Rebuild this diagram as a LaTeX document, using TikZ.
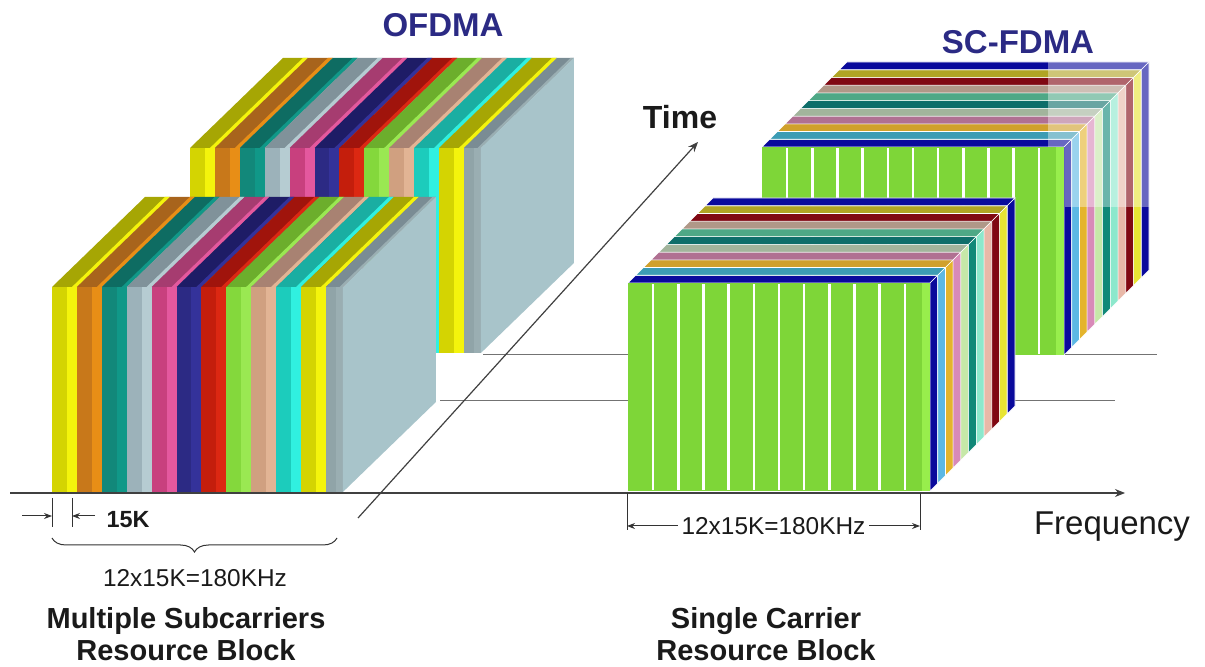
\documentclass[tikz,border=0pt]{standalone}
\usepackage{fontspec}
\setmainfont{Liberation Sans}
\usetikzlibrary{arrows.meta,decorations.pathreplacing,calc}

% subcarrier colours: face, highlight, top
\definecolor{ya}{HTML}{D4D402}\definecolor{yah}{HTML}{F4F40C}\definecolor{yat}{HTML}{A6A604}
\definecolor{or}{HTML}{C8781A}\definecolor{orh}{HTML}{E88E16}\definecolor{ort}{HTML}{A8641C}
\definecolor{te}{HTML}{12887A}\definecolor{teh}{HTML}{109888}\definecolor{tet}{HTML}{0E6C62}
\definecolor{gb}{HTML}{9CB2BA}\definecolor{gbh}{HTML}{B6CCD2}\definecolor{gbt}{HTML}{80929A}
\definecolor{pk}{HTML}{C8407E}\definecolor{pkh}{HTML}{E4589E}\definecolor{pkt}{HTML}{A63C70}
\definecolor{nv}{HTML}{2C2A84}\definecolor{nvh}{HTML}{34329A}\definecolor{nvt}{HTML}{1E1C66}
\definecolor{rd}{HTML}{C41E0C}\definecolor{rdh}{HTML}{DC2812}\definecolor{rdt}{HTML}{A0140C}
\definecolor{lg}{HTML}{84D83C}\definecolor{lgh}{HTML}{9AE852}\definecolor{lgt}{HTML}{6CAE2C}
\definecolor{tn}{HTML}{D0A080}\definecolor{tnh}{HTML}{E2B494}\definecolor{tnt}{HTML}{A88272}
\definecolor{cy}{HTML}{1CCCBC}\definecolor{cyh}{HTML}{30F0E0}\definecolor{cyt}{HTML}{1AAEA2}
\definecolor{gy}{HTML}{90A4A8}\definecolor{gyh}{HTML}{9AAEB2}\definecolor{gyt}{HTML}{7A8C94}
\definecolor{sidegb}{HTML}{A8C4CA}
% single carrier colours
\definecolor{scgreen}{HTML}{7ED638}\definecolor{scgreenlt}{HTML}{98EE4C}
\definecolor{nvb}{HTML}{0A0A9C}\definecolor{tq}{HTML}{3C9CB4}\definecolor{gd}{HTML}{D0A02C}
\definecolor{mv}{HTML}{B07092}\definecolor{gg}{HTML}{A2B49C}\definecolor{dt}{HTML}{0E6E6A}
\definecolor{sg}{HTML}{4EA886}\definecolor{gt}{HTML}{B09888}\definecolor{dr}{HTML}{800812}
\definecolor{ol}{HTML}{B0A424}\definecolor{lb}{HTML}{5CB8E4}\definecolor{gdd}{HTML}{E4B42C}
\definecolor{pkk}{HTML}{D88AB8}\definecolor{lgg}{HTML}{C6E8A8}\definecolor{tl}{HTML}{108878}
\definecolor{aq}{HTML}{8CE8CC}\definecolor{pt}{HTML}{E8B8A8}\definecolor{yl}{HTML}{E8E434}
\definecolor{hdnavy}{HTML}{2B2A84}\definecolor{ink}{HTML}{1A1A1A}

\tikzset{
  axisline/.style={draw=black!75, line width=0.6pt},
  floorline/.style={draw=black!55, line width=0.5pt},
  dimline/.style={draw=black!80, line width=0.5pt},
  tip/.style={-{Stealth[length=5pt,width=4pt]}},
  headlbl/.style={font=\fontsize{16.5}{19}\selectfont\bfseries, text=hdnavy},
  axislbl/.style={font=\fontsize{16.5}{19}\selectfont, text=ink},
  dimlbl/.style={font=\fontsize{12.2}{14}\selectfont, text=ink},
  caplbl/.style={font=\fontsize{14.5}{16}\selectfont\bfseries, text=ink, align=center},
}

% OFDMA block: front bottom-left corner at (#1,#2)
\newcommand{\ofdmablock}[2]{%
  \begin{scope}[shift={(#1,#2)}]
    \foreach \c [count=\i from 0] in {ya,or,te,gb,pk,nv,rd,lg,tn,cy,ya,gy}{
      \pgfmathsetmacro{\xa}{24.9*\i}
      \pgfmathsetmacro{\wd}{ifthenelse(\i==11,17,24.9)}
      \pgfmathsetmacro{\xb}{\xa+\wd}
      \pgfmathsetmacro{\xh}{\xa+0.6*\wd}
      \pgfmathsetmacro{\xt}{\xa+0.8*\wd}
      % top
      \fill[\c t] (\xa,-205) -- (\xb,-205) -- (\xb+93,-295) -- (\xa+93,-295) -- cycle;
      \fill[\c h] (\xt,-205) -- (\xb,-205) -- (\xb+93,-295) -- (\xt+93,-295) -- cycle;
      % front
      \fill[\c] (\xa,0) rectangle (\xh,-205);
      \fill[\c h] (\xh,0) rectangle (\xb,-205);
    }
    % side of the last subcarrier
    \fill[sidegb] (290.9,0) -- (290.9,-205) -- (383.9,-295) -- (383.9,-90) -- cycle;
  \end{scope}}

% SC-FDMA block: front bottom-left corner at (#1,#2)
\def\sx{7.727}
\def\sy{-7.727}
\newcommand{\scblock}[2]{%
  \begin{scope}[shift={(#1,#2)}]
    \foreach \ct/\cs [count=\k from 0] in {nvb/nvb,tq/lb,gd/gdd,mv/pkk,gg/lgg,dt/tl,sg/aq,gt/pt,dr/dr,ol/yl,nvb/nvb}{
      \fill[\ct, draw=white, line width=0.3pt] ({\k*\sx},{-208+\k*\sy}) -- ++(302,0) -- ++(\sx,\sy) -- ++(-302,0) -- cycle;
      \fill[\cs, draw=white, line width=0.3pt] ({302+\k*\sx},{-208+\k*\sy}) -- ++(\sx,\sy) -- ++(0,208) -- ++(-\sx,-\sy) -- cycle;
    }
    % front face
    \fill[scgreen] (0,0) rectangle (302,-208);
    \fill[scgreenlt] (294,0) rectangle (302,-208);
    \foreach \j in {1,...,11}
      \draw[white, line width=1.2pt] ({\j*302/12},-1) -- ({\j*302/12},-207);
  \end{scope}}

\begin{document}
\begin{tikzpicture}[x=0.5pt,y=-0.5pt]
  \useasboundingbox (0,0) rectangle (1205,667);

  % floor lines and frequency axis
  \coordinate (floor1-w) at (483,355);
  \coordinate (floor1-e) at (1157,355);
  \coordinate (floor2-w) at (440,401);
  \coordinate (floor2-e) at (1115,401);
  \coordinate (freq-w) at (10,493);
  \coordinate (freq-e) at (1125,493);
  \draw[floorline] (floor1-w) -- (floor1-e);
  \draw[floorline] (floor2-w) -- (floor2-e);
  \draw[axisline, tip] (freq-w) -- (freq-e);

  % OFDMA blocks
  \ofdmablock{190}{353}
  \ofdmablock{52}{492}

  % SC-FDMA blocks
  \scblock{762}{355}
  \fill[white, opacity=0.38] (1048,60) -- (1152,60) -- (1152,207) -- (1065,207) -- (1065,147) -- (1048,147) -- cycle;
  \scblock{628}{491}

  % time axis
  \coordinate (time-s) at (358,518);
  \coordinate (time-e) at (698,142);
  \draw[axisline, tip] (time-s) -- (time-e);

  % labels
  \node[headlbl] (ofdma) at (443,25) {OFDMA};
  \node[headlbl] (scfdma) at (1018,42) {SC-FDMA};
  \node[axislbl, font=\fontsize{16}{19}\selectfont\bfseries] (time) at (680,117) {Time};
  \node[axislbl] (freq) at (1112,527) {Frequency};

  % subcarrier spacing
  \coordinate (sp-a) at (52,498);
  \coordinate (sp-b) at (72,498);
  \draw[dimline] (sp-a) -- ++(0,29);
  \draw[dimline] (sp-b) -- ++(0,29);
  \coordinate (sp-l) at (22,516);
  \coordinate (sp-r) at (95,516);
  \draw[dimline, -{Stealth[length=4pt,width=3pt]}] (sp-l) -- (sp-a |- sp-l);
  \draw[dimline, -{Stealth[length=4pt,width=3pt]}] (sp-r) -- (sp-b |- sp-r);
  \node[dimlbl, font=\fontsize{11.7}{14}\selectfont\bfseries] (sp-lbl) at (128,520) {15K};

  % resource block widths
  \coordinate (rb1-e) at (337,538);
  \coordinate (rb1-w) at (52,538);
  \draw[dimline, decorate, decoration={brace, amplitude=7pt}] (rb1-e) -- (rb1-w);
  \node[dimlbl] (rb1-lbl) at (195,578) {12x15K=180KHz};
  \coordinate (rb2-w) at (627,493);
  \coordinate (rb2-e) at (920,493);
  \draw[dimline] (rb2-w) -- ++(0,37);
  \draw[dimline] (rb2-e) -- ++(0,37);
  \draw[dimline, {Stealth[length=4pt,width=3pt]}-{Stealth[length=4pt,width=3pt]}]
    ($(rb2-w)+(0,33)$) -- ($(rb2-e)+(0,33)$)
    node[midway, fill=white, inner xsep=2pt, inner ysep=1pt, dimlbl] (rb2-lbl) {12x15K=180KHz};

  % captions
  \node[caplbl] (cap-ofdma) at (186,634) {Multiple Subcarriers\\Resource Block};
  \node[caplbl] (cap-sc) at (766,634) {Single Carrier\\Resource Block};
\end{tikzpicture}
\end{document}
